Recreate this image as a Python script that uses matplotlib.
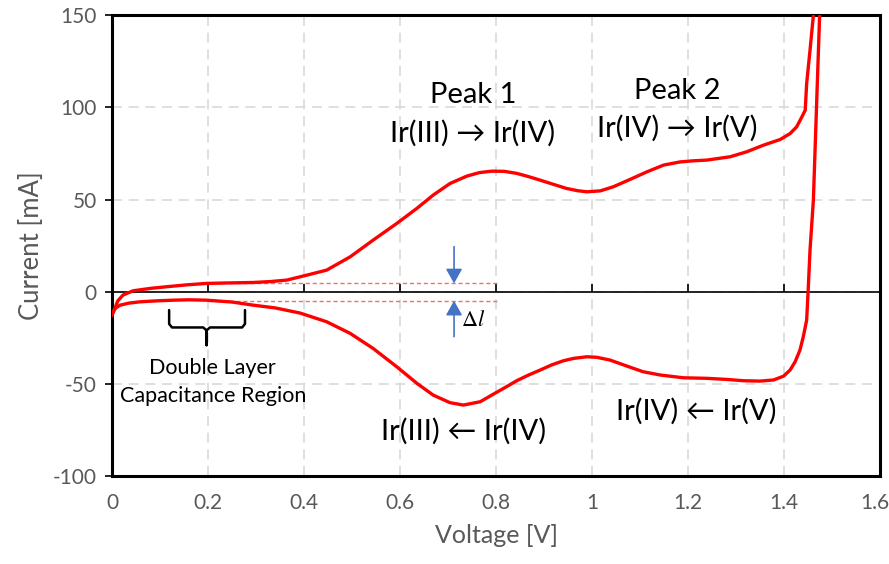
import numpy as np
import matplotlib.pyplot as plt
import matplotlib.transforms as mtransforms

plt.rcParams['font.family'] = ['Lato', 'DejaVu Sans']
plt.rcParams['axes.unicode_minus'] = False
plt.rcParams['mathtext.fontset'] = 'stix'

# anodic sweep (forward scan)
anodic_v = [0.0, 0.003, 0.006, 0.012, 0.023, 0.044, 0.08, 0.114, 0.155, 0.197, 0.25, 0.294,
            0.33, 0.364, 0.406, 0.447, 0.496, 0.544, 0.593, 0.635, 0.669, 0.704, 0.739,
            0.765, 0.791, 0.817, 0.843, 0.867, 0.892, 0.92, 0.947, 0.97, 0.989, 1.017,
            1.044, 1.079, 1.114, 1.149, 1.183, 1.21, 1.239, 1.2875, 1.322, 1.357, 1.392,
            1.4125, 1.426, 1.437, 1.444, 1.447, 1.454, 1.461, 1.465]
anodic_i = [-12.5, -11.0, -9.0, -5.0, -1.8, 0.5, 1.8, 2.7, 3.7, 4.5, 4.8, 5.0,
            5.5, 6.3, 9.0, 11.7, 18.9, 28.0, 37.0, 45.2, 52.4, 58.7, 62.7,
            64.6, 65.4, 65.3, 64.2, 62.5, 60.5, 58.2, 56.0, 54.8, 54.2, 54.7,
            56.9, 60.9, 65.0, 68.7, 70.4, 71.0, 71.4, 73.2, 75.9, 79.5, 82.6,
            85.8, 89.4, 94.8, 98.5, 113.0, 131.0, 150.0, 165.0]

# cathodic sweep (reverse scan)
cath_v = [1.475, 1.474, 1.468, 1.461, 1.454, 1.45, 1.447, 1.44, 1.433, 1.423, 1.4125,
          1.399, 1.378, 1.35, 1.315, 1.281, 1.239, 1.19, 1.142, 1.106, 1.072, 1.0375,
          1.01, 0.989, 0.961, 0.94, 0.915, 0.892, 0.867, 0.843, 0.82, 0.795, 0.767,
          0.732, 0.704, 0.669, 0.635, 0.593, 0.544, 0.496, 0.447, 0.392, 0.34, 0.294,
          0.25, 0.197, 0.16, 0.128, 0.09, 0.058, 0.035, 0.017, 0.008, 0.003, 0.0]
cath_i = [165.0, 150.0, 103.9, 49.7, 22.6, 0.0, -15.4, -24.4, -31.7, -38.0, -42.5,
          -45.8, -47.9, -48.5, -48.3, -47.6, -47.0, -46.7, -45.2, -43.4, -40.3, -37.1,
          -35.6, -35.3, -36.2, -37.5, -39.8, -42.5, -45.3, -48.3, -51.8, -55.5, -59.7,
          -61.5, -60.2, -56.1, -49.7, -40.7, -30.8, -22.6, -16.3, -11.6, -8.8, -7.3,
          -5.6, -4.6, -4.4, -4.6, -5.0, -5.5, -6.2, -7.3, -8.8, -10.5, -12.5]

dl_upper = 4.5
dl_lower = -4.9

gray = '#595959'
red = '#ff0000'

fig = plt.figure(figsize=(8.89, 5.64), dpi=100)
ax = fig.add_axes([0.126, 0.156, 0.864, 0.817])

ax.set_xlim(0, 1.6)
ax.set_ylim(-100, 150)
ax.set_xticks(np.arange(0, 1.61, 0.2))
ax.set_xticklabels(['0', '0.2', '0.4', '0.6', '0.8', '1', '1.2', '1.4', '1.6'])
ax.set_yticks([-100, -50, 0, 50, 100, 150])
ax.set_yticklabels(['-100', '-50', '0', '50', '100', '150'])
ax.grid(True, color='#d9d9d9', linestyle=(0, (6, 4)), linewidth=1.2)
ax.set_axisbelow(True)
for s in ax.spines.values():
    s.set_linewidth(2.2)
    s.set_color('black')
ax.tick_params(axis='x', length=0, pad=12, labelsize=15, labelcolor=gray)
ax.tick_params(axis='y', length=5, width=1.2, direction='out', pad=6, labelsize=15, labelcolor=gray)
last = ax.get_xticklabels()[-1]
last.set_transform(last.get_transform() + mtransforms.ScaledTranslation(-5 / 100, 0, fig.dpi_scale_trans))

# zero line with small ticks
ax.axhline(0, color='black', lw=1.2, zorder=2)
ax.vlines(np.arange(0.2, 1.6, 0.2), 0, 4.3, color='black', lw=1.2, zorder=2)

# delta-I guide lines
ax.hlines([dl_upper, dl_lower], 0.2, 0.805, colors='#f07070', linestyles=(0, (3, 2)), lw=1.0, zorder=2)

ax.plot(anodic_v, anodic_i, color=red, lw=2.4, solid_joinstyle='round', zorder=3)
ax.plot(cath_v, cath_i, color=red, lw=2.4, solid_joinstyle='round', zorder=3)

# arrows
arrow = dict(arrowstyle='-|>,head_length=0.8,head_width=0.45', color='#4472C4', lw=1.2,
             mutation_scale=11, shrinkA=0, shrinkB=0)
ax.annotate('', xy=(0.7125, dl_upper), xytext=(0.7125, 24.4), arrowprops=arrow)
ax.annotate('', xy=(0.7125, dl_lower), xytext=(0.7125, -24.4), arrowprops=arrow)
ax.text(0.753, -15.5, r'$\Delta l$', fontsize=16, ha='center', va='center')

# brace
bx = [0.119, 0.119, 0.125, 0.19, 0.197, 0.197, 0.197, 0.204, 0.271, 0.277, 0.277]
by = [-10, -17.5, -19.4, -19.4, -21, -29, -21, -19.4, -19.4, -17.5, -10]
ax.plot(bx, by, color='black', lw=1.8, solid_joinstyle='round', solid_capstyle='round')

ax.text(0.21, -41.5, 'Double Layer', fontsize=15.5, ha='center', va='center')
ax.text(0.21, -56.7, 'Capacitance Region', fontsize=15.5, ha='center', va='center')

big = 21
ax.text(0.752, 106.6, 'Peak 1', fontsize=big, ha='center', va='center')
ax.text(0.752, 86, 'Ir(III) → Ir(IV)', fontsize=big, ha='center', va='center')
ax.text(1.177, 109, 'Peak 2', fontsize=big, ha='center', va='center')
ax.text(1.177, 88.7, 'Ir(IV) → Ir(V)', fontsize=big, ha='center', va='center')
ax.text(0.732, -76, 'Ir(III) ← Ir(IV)', fontsize=big, ha='center', va='center')
ax.text(1.217, -65, 'Ir(IV) ← Ir(V)', fontsize=big, ha='center', va='center')

ax.set_xlabel('Voltage [V]', fontsize=18, color=gray, labelpad=8)
ax.set_ylabel('Current [mA]', fontsize=18.5, color=gray, labelpad=6)

fig.savefig('out.png', dpi=100)
